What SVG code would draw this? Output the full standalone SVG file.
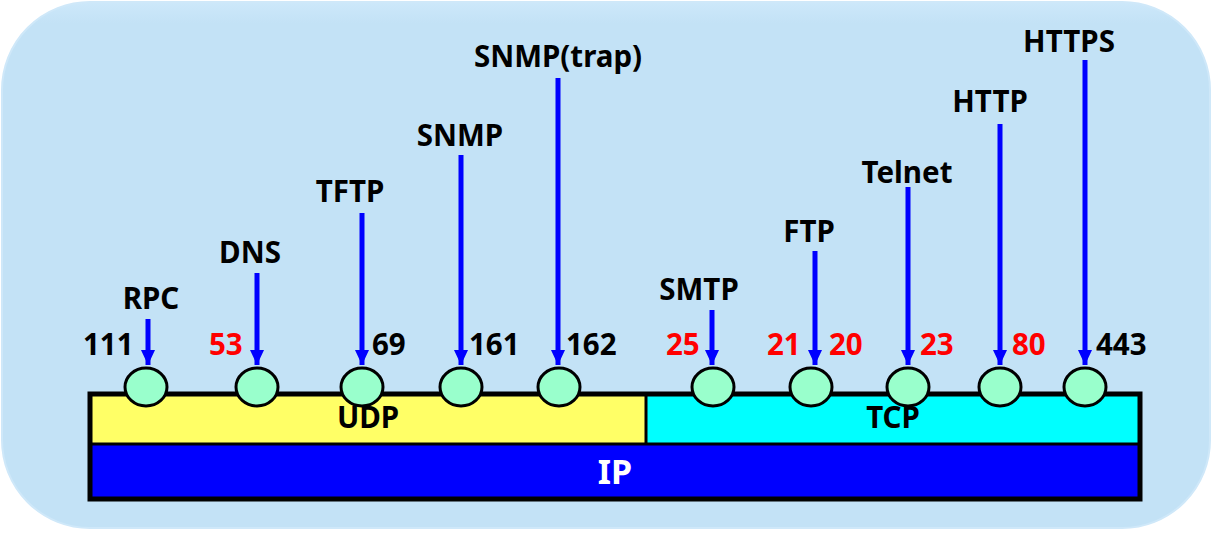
<svg xmlns="http://www.w3.org/2000/svg" width="1213" height="533" viewBox="0 0 1213 533">
<defs>
<marker id="ah" markerUnits="userSpaceOnUse" markerWidth="16" markerHeight="14" refX="15" refY="7" orient="auto">
<path d="M0,0 L15,7 L0,14 z" fill="#0000FF"/>
</marker>
<linearGradient id="bggrad" x1="0" y1="0" x2="0" y2="1">
<stop offset="0" stop-color="#CDE8FA"/>
<stop offset="0.04" stop-color="#C3E2F6"/>
<stop offset="1" stop-color="#C3E2F6"/>
</linearGradient>
</defs>
<style>
.lbl{font-family:"Noto Sans","Open Sans",sans-serif;font-weight:bold;font-size:29.5px;fill:#000;text-anchor:middle}
.num{font-family:"Noto Sans","Open Sans",sans-serif;font-weight:bold;font-size:29.5px;fill:#000;text-anchor:start}
.red{fill:#FF0000}
.port{fill:#99FFCC;stroke:#000;stroke-width:3}
.arr{stroke:#0000FF;stroke-width:5;fill:none;marker-end:url(#ah)}
</style>
<rect x="2" y="2" width="1208" height="526" rx="88" ry="88" fill="url(#bggrad)" stroke="#CFE8F9" stroke-width="2"/>
<g id="layers">
<rect x="90" y="394" width="557" height="50" fill="#FFFF66"/>
<rect x="647" y="394" width="493" height="50" fill="#00FFFF"/>
<rect x="90" y="444" width="1050" height="55" fill="#0000FF"/>
<rect x="90" y="394" width="1050" height="105" fill="none" stroke="#000" stroke-width="5"/>
<line x1="90" y1="444" x2="1140" y2="444" stroke="#000" stroke-width="3"/>
<line x1="646" y1="394" x2="646" y2="444" stroke="#000" stroke-width="3"/>
<text class="lbl" x="368" y="428">UDP</text>
<text class="lbl" x="893" y="428">TCP</text>
<text class="lbl" x="615" y="484" style="fill:#fff;font-size:34px">IP</text>
</g>
<g id="connectors">
<line class="arr" x1="148" y1="319" x2="148" y2="365"/>
<line class="arr" x1="257" y1="273" x2="257" y2="365"/>
<line class="arr" x1="362" y1="213" x2="362" y2="365"/>
<line class="arr" x1="461" y1="155" x2="461" y2="365"/>
<line class="arr" x1="558" y1="78" x2="558" y2="365"/>
<line class="arr" x1="712" y1="310" x2="712" y2="365"/>
<line class="arr" x1="815" y1="251" x2="815" y2="365"/>
<line class="arr" x1="908" y1="187" x2="908" y2="365"/>
<line class="arr" x1="1000" y1="124" x2="1000" y2="365"/>
<line class="arr" x1="1085" y1="60" x2="1085" y2="365"/>
</g>
<g id="rpc"><ellipse class="port" cx="146" cy="387" rx="21" ry="19"/><text class="lbl" x="151" y="309">RPC</text><text class="num" x="83" y="355">111</text></g>
<g id="dns"><ellipse class="port" cx="257" cy="387" rx="21" ry="19"/><text class="lbl" x="250" y="263">DNS</text><text class="num red" x="209" y="355">53</text></g>
<g id="tftp"><ellipse class="port" cx="362" cy="387" rx="21" ry="19"/><text class="lbl" x="350" y="202">TFTP</text><text class="num" x="372" y="355">69</text></g>
<g id="snmp"><ellipse class="port" cx="461" cy="387" rx="21" ry="19"/><text class="lbl" x="460" y="146">SNMP</text><text class="num" x="469" y="355">161</text></g>
<g id="snmptrap"><ellipse class="port" cx="559" cy="387" rx="21" ry="19"/><text class="lbl" x="558" y="67">SNMP(trap)</text><text class="num" x="566" y="355">162</text></g>
<g id="smtp"><ellipse class="port" cx="713" cy="387" rx="21" ry="19"/><text class="lbl" x="699" y="300">SMTP</text><text class="num red" x="666" y="355">25</text></g>
<g id="ftp"><ellipse class="port" cx="811" cy="387" rx="21" ry="19"/><text class="lbl" x="809" y="242">FTP</text><text class="num red" x="767" y="355">21</text><text class="num red" x="829" y="355">20</text></g>
<g id="telnet"><ellipse class="port" cx="908" cy="387" rx="21" ry="19"/><text class="lbl" x="907" y="183">Telnet</text><text class="num red" x="920" y="355">23</text></g>
<g id="http"><ellipse class="port" cx="1000" cy="387" rx="21" ry="19"/><text class="lbl" x="990" y="112">HTTP</text><text class="num red" x="1012" y="355">80</text></g>
<g id="https"><ellipse class="port" cx="1085" cy="387" rx="21" ry="19"/><text class="lbl" x="1069" y="52">HTTPS</text><text class="num" x="1096" y="355">443</text></g>
</svg>
